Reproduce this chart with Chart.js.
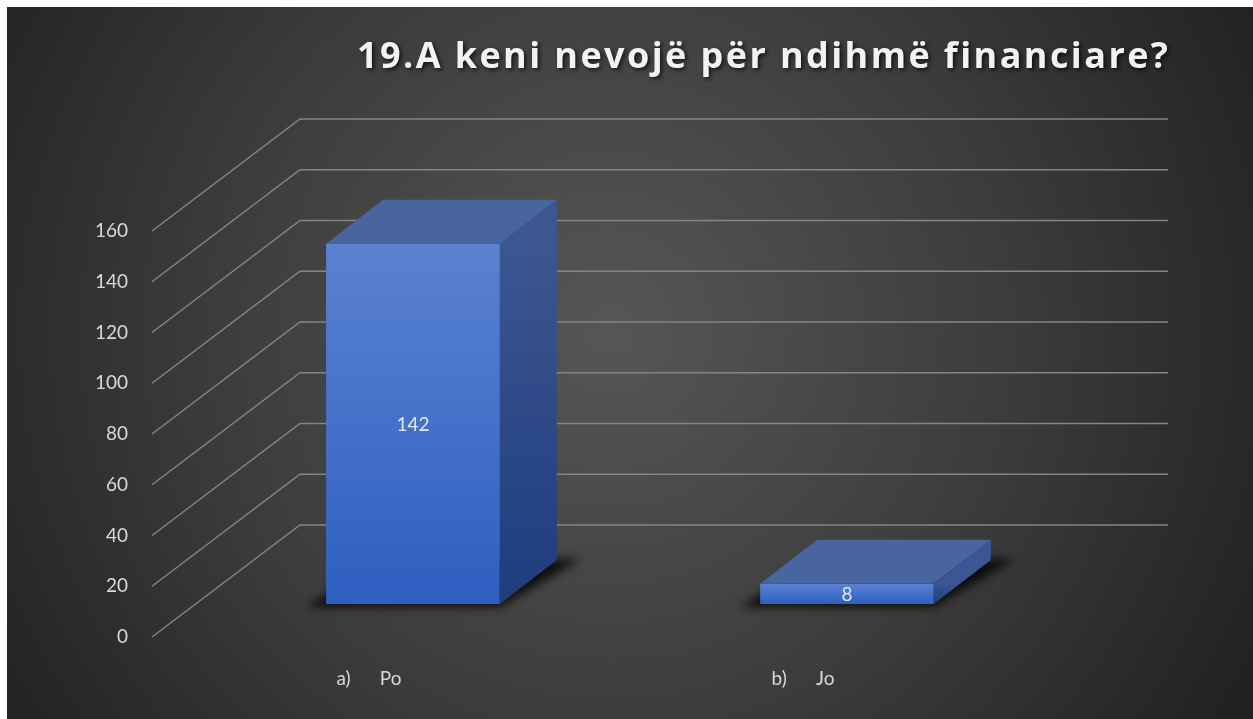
<!DOCTYPE html>
<html>
<head>
<meta charset="utf-8">
<script src="https://cdn.jsdelivr.net/npm/chart.js@4.4.1/dist/chart.umd.min.js"></script>
<style>
html,body{margin:0;padding:0;background:#fff;}
canvas{display:block;}
</style>
</head>
<body>
<canvas id="chart" width="1253" height="719"></canvas>
<script>
// data
const chartTitle = "19.A keni nevojë për ndihmë financiare?";
const categories = ["a)      Po", "b)      Jo"];
const answers = [142, 8];
const yMax = 160;
const yStep = 20;

// 3d look
const FRONT = {dx: -44, dy: 33};   // plane of the axis labels
const BACK = {dx: 104, dy: -79};   // back wall
const DEPTH = {dx: 57, dy: -44};   // depth of a column
const FONT = "Lato, 'Open Sans', sans-serif";
const TITLE_FONT = "'Open Sans', Lato, sans-serif";

function poly(c, pts) {
  c.beginPath();
  c.moveTo(pts[0][0], pts[0][1]);
  for (let i = 1; i < pts.length; i++) c.lineTo(pts[i][0], pts[i][1]);
  c.closePath();
}

const threeD = {
  id: "threeD",
  beforeDraw(chart) {
    const c = chart.ctx;
    c.save();
    c.fillStyle = "#fff";
    c.fillRect(0, 0, chart.width, chart.height);
    const g = c.createRadialGradient(610, 330, 0, 610, 330, 720);
    g.addColorStop(0, "#565656");
    g.addColorStop(0.55, "#3c3c3c");
    g.addColorStop(1, "#222222");
    c.fillStyle = g;
    c.fillRect(7, 7, chart.width - 7, chart.height - 7);
    c.restore();
  },
  beforeDatasetsDraw(chart) {
    const c = chart.ctx, y = chart.scales.y, a = chart.chartArea;
    c.save();
    c.strokeStyle = "#858585";
    c.lineWidth = 1.5;
    y.ticks.forEach(t => {
      const py = y.getPixelForValue(t.value);
      c.beginPath();
      c.moveTo(a.left + FRONT.dx, py + FRONT.dy);
      c.lineTo(a.left + BACK.dx, py + BACK.dy);
      c.lineTo(a.right + BACK.dx, py + BACK.dy);
      c.stroke();
    });
    c.restore();
  },
  afterDatasetsDraw(chart) {
    const c = chart.ctx;
    const bars = chart.getDatasetMeta(0).data;
    // floor shadows
    bars.forEach(bar => {
      const x0 = bar.x - bar.width / 2, x1 = bar.x + bar.width / 2, b = bar.base;
      c.save();
      c.filter = "blur(5px)";
      c.fillStyle = "rgba(0,0,0,0.8)";
      poly(c, [[x0 - 20, b + 3], [x1, b + 3], [x1 + DEPTH.dx + 24, b + DEPTH.dy - 1], [x0 + DEPTH.dx, b + DEPTH.dy - 1]]);
      c.fill();
      c.restore();
    });
    c.save();
    bars.forEach((bar, i) => {
      const x0 = bar.x - bar.width / 2, x1 = bar.x + bar.width / 2, t = bar.y, b = bar.base;
      // front face
      const gf = c.createLinearGradient(0, t, 0, b);
      gf.addColorStop(0, "#5b82d1");
      gf.addColorStop(1, "#2d5fc1");
      c.fillStyle = gf;
      c.fillRect(x0, t, x1 - x0, b - t);
      // top face
      c.fillStyle = "#4965a0";
      poly(c, [[x0, t], [x1, t], [x1 + DEPTH.dx, t + DEPTH.dy], [x0 + DEPTH.dx, t + DEPTH.dy]]);
      c.fill();
      // side face
      const g = c.createLinearGradient(0, t, 0, b);
      g.addColorStop(0, "#3a5693");
      g.addColorStop(1, "#1f3d7b");
      c.fillStyle = g;
      poly(c, [[x1, t], [x1 + DEPTH.dx, t + DEPTH.dy], [x1 + DEPTH.dx, b + DEPTH.dy], [x1, b]]);
      c.fill();
      // value label
      c.fillStyle = "#e6e6e6";
      c.font = "19px " + FONT;
      c.textAlign = "center";
      c.textBaseline = "middle";
      c.fillText(String(answers[i]), bar.x, (t + b) / 2 + 1);
    });
    c.restore();
  },
  afterDraw(chart) {
    const c = chart.ctx;
    const right = chart.chartArea.right + BACK.dx, left = 357;
    c.save();
    c.font = "bold 36px " + TITLE_FONT;
    c.letterSpacing = "0px";
    const w = c.measureText(chartTitle).width;
    const sp = Math.max(0, (right - left - w) / (chartTitle.length - 1));
    c.letterSpacing = sp + "px";
    c.fillStyle = "#f2f2f2";
    c.textAlign = "left";
    c.textBaseline = "alphabetic";
    c.shadowColor = "rgba(0,0,0,0.7)";
    c.shadowBlur = 4;
    c.shadowOffsetX = 2;
    c.shadowOffsetY = 2;
    c.fillText(chartTitle, left, 68);
    c.restore();
  }
};

new Chart(document.getElementById("chart"), {
  type: "bar",
  data: {
    labels: categories,
    datasets: [{
      data: answers,
      categoryPercentage: 1,
      barPercentage: 0.4,
      borderWidth: 0,
      backgroundColor: "#4472c4"
    }]
  },
  options: {
    responsive: false,
    animation: false,
    layout: {padding: {left: 0, right: 189, top: 198, bottom: 0}},
    plugins: {legend: {display: false}, tooltip: {enabled: false}, title: {display: false}},
    scales: {
      x: {
        grid: {display: false, drawTicks: false},
        border: {display: false},
        ticks: {color: "#d9d9d9", font: {family: FONT, size: 19}, padding: 63, labelOffset: -44},
        afterFit(s) { s.height = 115; }
      },
      y: {
        min: 0,
        max: yMax,
        grid: {display: false, drawTicks: false},
        border: {display: false},
        ticks: {stepSize: yStep, color: "#d9d9d9", font: {family: FONT, size: 19}, padding: 68, labelOffset: 33},
        afterFit(s) { s.width = 196; }
      }
    }
  },
  plugins: [threeD]
});
</script>
</body>
</html>
